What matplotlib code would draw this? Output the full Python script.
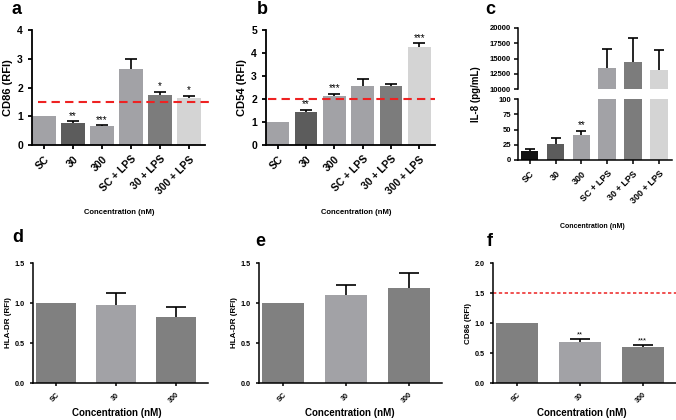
import numpy as np
import matplotlib
matplotlib.use("Agg")
import matplotlib.pyplot as plt

plt.rcParams['font.family'] = ['Liberation Sans', 'DejaVu Sans']
plt.rcParams['font.weight'] = 'bold'

# ---------------- data ----------------
cats6 = ["SC", "30", "300", "SC + LPS", "30 + LPS", "300 + LPS"]
cats3 = ["SC", "30", "300"]

cd86_a = [1.0, 0.77, 0.65, 2.63, 1.74, 1.63]
cd86_a_err = [0.0, 0.05, 0.04, 0.37, 0.12, 0.08]
cd86_a_sig = ["", "**", "***", "", "*", "*"]

cd54_b = [1.0, 1.42, 2.15, 2.55, 2.58, 4.25]
cd54_b_err = [0.0, 0.10, 0.07, 0.33, 0.06, 0.17]
cd54_b_sig = ["", "**", "***", "", "", "***"]

il8_c = [14.7, 26.0, 41.0, 13430, 14480, 13160]
il8_c_err = [3.8, 10.0, 7.0, 3130, 3900, 3300]
il8_c_sig = ["", "", "**", "", "", ""]

hla_d = [1.0, 0.97, 0.82]
hla_d_err = [0.0, 0.15, 0.13]

hla_e = [1.0, 1.10, 1.19]
hla_e_err = [0.0, 0.13, 0.18]

cd86_f = [1.0, 0.69, 0.60]
cd86_f_err = [0.0, 0.05, 0.04]
cd86_f_sig = ["", "**", "***"]

colors_ab = ["#a2a2a6", "#5c5c5c", "#a2a2a6", "#a2a2a6", "#7c7c7c", "#d4d4d4"]
colors_c = ["#111111", "#5c5c5c", "#a2a2a6", "#a2a2a6", "#7c7c7c", "#d4d4d4"]
colors_def = ["#808080", "#a2a2a6", "#808080"]

W, H = 676, 420
fig = plt.figure(figsize=(W / 100, H / 100), dpi=100)


def ax_px(l, r, t, b):
    return fig.add_axes([l / W, 1 - b / H, (r - l) / W, (b - t) / H])


def style(ax, lw=1.3):
    for s in ["top", "right"]:
        ax.spines[s].set_visible(False)
    for s in ["left", "bottom"]:
        ax.spines[s].set_linewidth(lw)
    ax.tick_params(width=lw, length=3)


def errbars(ax, x, vals, errs, lw=1.2, cap=4):
    x = np.asarray(x, float)
    vals = np.asarray(vals, float)
    errs = np.asarray(errs, float)
    m = errs > 0
    if not m.any():
        return
    eb = ax.errorbar(x[m], vals[m], yerr=[np.zeros(m.sum()), errs[m]], fmt="none",
                     ecolor="black", elinewidth=lw, capsize=cap, capthick=lw)
    eb[1][0].set_visible(False)


def stars(ax, x, vals, errs, sig, off, fs=7):
    for xi, v, e, s in zip(x, vals, errs, sig):
        if s:
            ax.text(xi, v + e + off, s, ha="center", va="bottom", fontsize=fs,
                    fontweight="normal")


# ---------------- panel a ----------------
x6 = np.arange(6)
ax = ax_px(32, 205, 30, 145)
ax.bar(x6, cd86_a, width=0.8, color=colors_ab)
errbars(ax, x6, cd86_a, cd86_a_err)
stars(ax, x6, cd86_a, cd86_a_err, cd86_a_sig, 0.02)
ax.set_xlim(-0.41, 5.55)
ax.set_ylim(0, 4)
ax.set_yticks([0, 1, 2, 3, 4])
ax.axhline(1.5, xmin=0.035, xmax=1.03, color="#ee2222", ls=(0, (4, 2.5)), lw=1.5, clip_on=False)
ax.set_xticks(x6)
ax.set_xticklabels(cats6, rotation=45, ha="right", rotation_mode="anchor", fontsize=7.5, fontweight="bold")
ax.tick_params(axis="y", labelsize=7.5)
for t in ax.get_yticklabels():
    t.set_fontweight("bold")
ax.set_ylabel("CD86 (RFI)", fontsize=8, fontweight="bold", labelpad=3)
style(ax)
fig.text(119 / W, 1 - 212 / H, "Concentration (nM)", ha="center", va="center", fontsize=5.5, fontweight="bold")

# ---------------- panel b ----------------
ax = ax_px(266, 435, 30, 145)
ax.bar(x6, cd54_b, width=0.8, color=colors_ab)
errbars(ax, x6, cd54_b, cd54_b_err)
stars(ax, x6, cd54_b, cd54_b_err, cd54_b_sig, 0.03)
ax.set_xlim(-0.41, 5.55)
ax.set_ylim(0, 5)
ax.set_yticks([0, 1, 2, 3, 4, 5])
ax.axhline(2.0, xmin=0.01, xmax=1.0, color="#ee2222", ls=(0, (4, 2.5)), lw=1.5, clip_on=False)
ax.set_xticks(x6)
ax.set_xticklabels(cats6, rotation=45, ha="right", rotation_mode="anchor", fontsize=7.5, fontweight="bold")
ax.tick_params(axis="y", labelsize=7.5)
for t in ax.get_yticklabels():
    t.set_fontweight("bold")
ax.set_ylabel("CD54 (RFI)", fontsize=8, fontweight="bold", labelpad=3)
style(ax)
fig.text(356 / W, 1 - 213 / H, "Concentration (nM)", ha="center", va="center", fontsize=5.5, fontweight="bold")

# ---------------- panel c (broken axis) ----------------
axb = ax_px(518, 672, 99, 160)
axt = ax_px(518, 672, 28, 89)
for a_ in (axb, axt):
    a_.bar(x6, il8_c, width=0.68, color=colors_c)
    errbars(a_, x6, il8_c, il8_c_err, cap=3.5)
    a_.set_xlim(-0.45, 5.5)
stars(axb, x6, il8_c, il8_c_err, il8_c_sig, 1)
axb.set_ylim(0, 100)
axb.set_yticks([0, 25, 50, 75, 100])
axt.set_ylim(10000, 20000)
axt.set_yticks([10000, 12500, 15000, 17500, 20000])
style(axb, 1.1)
style(axt, 1.1)
axt.spines["bottom"].set_visible(False)
axt.set_xticks([])
axb.spines["top"].set_visible(False)
axb.set_xticks(x6)
axb.set_xticklabels(cats6, rotation=45, ha="right", rotation_mode="anchor", fontsize=6.5, fontweight="bold")
for a_ in (axb, axt):
    a_.tick_params(axis="y", labelsize=5.5, pad=2)
    for t in a_.get_yticklabels():
        t.set_fontweight("bold")
fig.text(476 / W, 1 - 94 / H, "IL-8 (pg/mL)", rotation=90, ha="center", va="center", fontsize=7, fontweight="bold")
fig.text(592 / W, 1 - 227 / H, "Concentration (nM)", ha="center", va="center", fontsize=5, fontweight="bold")

# ---------------- bottom panels ----------------
x3 = np.arange(3)


def bottom_panel(l, r, vals, errs, colors, ylabel, ylim, yticks, xlab_x):
    ax = ax_px(l, r, 263, 383)
    ax.bar(x3, vals, width=0.67, color=colors)
    errbars(ax, x3, vals, errs, lw=1.2, cap=7)
    ax.set_xlim(-0.38, 2.53)
    ax.set_ylim(*ylim)
    ax.set_yticks(yticks)
    ax.set_yticklabels([f"{v:.1f}" for v in yticks], fontsize=5.2, fontweight="bold")
    ax.set_xticks(x3)
    ax.set_xticklabels(cats3, rotation=45, ha="right", rotation_mode="anchor", fontsize=5.2, fontweight="bold")
    ax.set_ylabel(ylabel, fontsize=5.8, fontweight="bold", labelpad=2)
    style(ax, 1.1)
    ax.tick_params(length=2.5)
    fig.text(xlab_x / W, 1 - 413 / H, "Concentration (nM)", ha="center", va="center", fontsize=7, fontweight="bold")
    return ax


bottom_panel(33, 208, hla_d, hla_d_err, colors_def, "HLA-DR (RFI)", (0, 1.5), [0.0, 0.5, 1.0, 1.5], 117)
bottom_panel(259, 442, hla_e, hla_e_err, colors_def, "HLA-DR (RFI)", (0, 1.5), [0.0, 0.5, 1.0, 1.5], 350)
axf = bottom_panel(493, 676, cd86_f, cd86_f_err, colors_def, "CD86 (RFI)", (0, 2.0), [0.0, 0.5, 1.0, 1.5, 2.0], 582)
axf.axhline(1.5, xmin=0.0, xmax=1.0, color="#ee3333", ls=(0, (2, 1.5)), lw=1.2, clip_on=False)
stars(axf, x3, cd86_f, cd86_f_err, cd86_f_sig, 0.01, fs=5.5)

# panel letters
for txt, px, py in [("a", 17, 10), ("b", 262, 9), ("c", 490, 10), ("d", 18, 238), ("e", 260, 242), ("f", 490, 242)]:
    fig.text(px / W, 1 - py / H, txt, ha="center", va="center", fontsize=13, fontweight="bold")

fig.savefig("out.png", dpi=100)
